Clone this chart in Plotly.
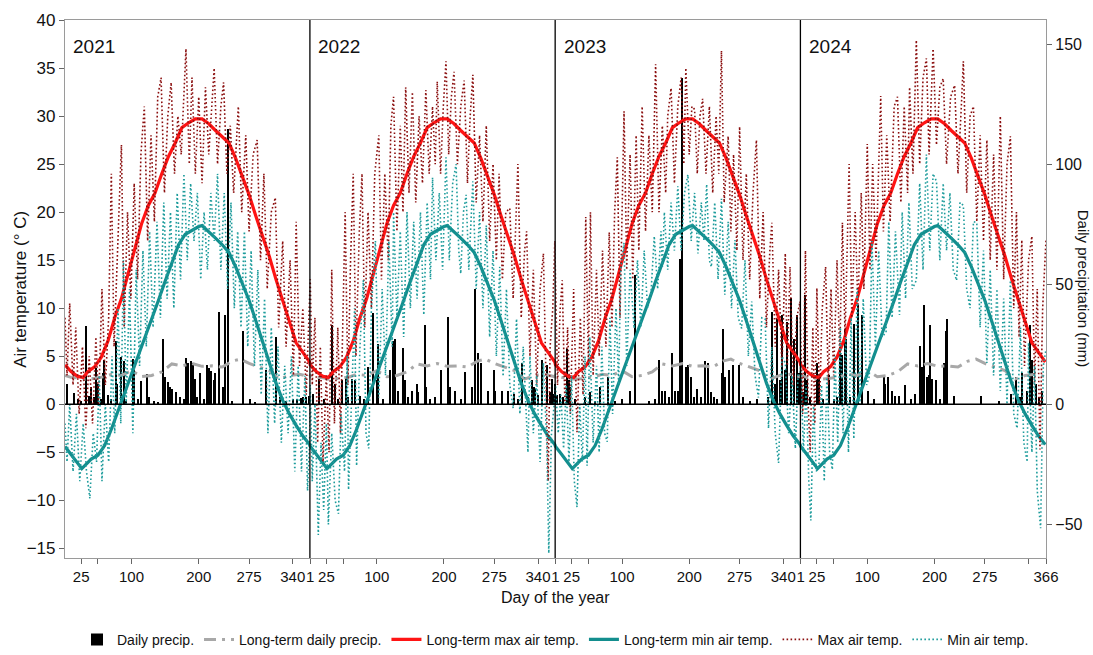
import plotly.graph_objects as go

FONT = "Liberation Sans, Arial, sans-serif"

YEARS = ["2021", "2022", "2023", "2024"]
YEAR_LENGTHS = [365, 365, 365, 366]

# ---- long-term curves (same for every year) ----
LT_MAX_DAYS = [1, 10, 20, 28, 35, 45, 55, 65, 75, 85, 95, 105, 115, 125, 135, 145, 155, 165, 175, 185,
               195, 205, 215, 225, 235, 245, 255, 265, 275, 285, 295, 305, 315, 325, 335, 345, 355, 365]
LT_MAX = [4.1, 3.4, 2.9, 2.8, 3.4, 3.9, 4.9, 6.6, 9.0, 11.0, 13.6, 16.2, 18.8, 20.7, 22.0, 24.0, 25.8, 27.2, 28.8, 29.3,
          29.7, 29.7, 29.2, 28.5, 27.9, 27.2, 25.6, 23.8, 21.8, 19.6, 17.6, 15.4, 13.0, 10.8, 8.6, 6.4, 5.4, 4.4]

LT_MIN_DAYS = [1, 10, 18, 26, 33, 40, 50, 60, 70, 80, 90, 100, 110, 120, 130, 140, 150, 160, 170, 180,
               190, 200, 205, 215, 225, 235, 245, 255, 265, 275, 285, 295, 305, 315, 325, 335, 345, 355, 365]
LT_MIN = [-4.4, -5.2, -6.0, -6.7, -6.2, -5.7, -5.3, -4.3, -2.6, -0.7, 1.2, 3.0, 5.0, 7.0, 8.9, 10.8, 12.8, 14.8, 16.6, 17.7,
          18.1, 18.5, 18.6, 18.0, 17.3, 16.6, 15.8, 14.3, 12.6, 10.8, 8.7, 6.5, 4.4, 2.2, 0.4, -1.0, -2.2, -3.3, -4.2]

LT_PRECIP_DAYS = [1, 10, 20, 30, 45, 60, 70, 85, 100, 115, 130, 145, 160, 175, 190, 205, 220, 235, 250, 262,
                  275, 290, 305, 320, 335, 350, 365]
LT_PRECIP = [12.0, 11.2, 11.0, 10.4, 10.8, 11.5, 12.5, 12.0, 14.0, 11.5, 12.0, 13.5, 16.8, 16.0, 17.0, 15.8, 16.0, 15.5,
             18.0, 18.8, 17.0, 15.5, 14.0, 10.5, 12.0, 12.5, 11.5]

# ---- daily max air temperature (day, degC) ----
MAX_2021 = [(1, 9), (4, 3), (8, 10.5), (13, 2), (17, 8), (22, -1), (27, 6), (32, -2.5), (37, 5), (42, -2), (47, 7),
            (51, 0), (56, 12), (61, 2), (66, 9), (70, 24), (74, 6), (79, 15), (85, 27), (89, 8), (94, 20), (99, 11),
            (104, 23), (109, 13), (114, 26), (119, 31), (124, 17), (129, 28), (134, 19), (139, 32), (144, 34),
            (149, 22), (154, 30), (159, 33.5), (164, 24), (169, 30), (174, 26), (181, 37), (186, 25), (190, 34),
            (195, 24), (200, 32), (205, 23), (210, 33), (215, 26), (223, 35), (228, 25), (233, 31), (237, 33.5),
            (242, 24), (247, 29), (252, 22), (259, 31), (264, 20), (270, 28), (275, 18), (281, 26), (287, 27.5),
            (292, 15), (297, 24), (302, 12), (308, 20), (314, 21.5), (319, 8), (325, 17), (330, 6), (336, 15),
            (341, 3), (345, 19), (350, 4), (355, 10), (360, 1), (365, 13)]
MAX_2022 = [(1, 13), (4, 2), (8, 9), (12, -4), (16, 6), (20, -6), (25, 3), (29, -5), (33, 14), (37, -2), (42, 8),
            (46, -3), (50, 12), (53, 20), (57, 2), (61, 15), (65, 24), (69, 5), (74, 18), (78, 24), (82, 8), (87, 20),
            (92, 10), (97, 24), (103, 28), (107, 13), (112, 24), (117, 15), (121, 29), (125, 32), (130, 18),
            (135, 29), (139, 20), (143, 33), (148, 22), (153, 32.5), (158, 21), (163, 30), (168, 23), (173, 32.7),
            (178, 24), (183, 31), (187, 25), (190, 33.6), (195, 24), (199, 31), (203, 35.7), (207, 26), (211, 32),
            (215, 34.6), (220, 25), (225, 31), (230, 33.7), (235, 23), (239, 30), (243, 34.3), (248, 21), (253, 28),
            (258, 19), (263, 29), (268, 17), (273, 25), (278, 15), (282, 24), (287, 13), (292, 20), (298, 20.4),
            (303, 11), (310, 25), (315, 9), (320, 16), (323, 18), (328, 5), (333, 14), (338, 2), (343, 12),
            (348, 15.7), (352, 0), (355, -8), (358, 6), (362, 10), (365, 17)]
MAX_2023 = [(1, 14), (4, 2), (8, 10), (11, 12.9), (15, 0), (19, 8), (23, -1), (28, 12), (33, -2.9), (38, 9), (42, 1),
            (46, 19.5), (50, 4), (53, 20), (57, 3), (62, 14), (66, 5), (71, 16), (76, 6), (81, 17.9), (85, 8),
            (89, 20), (93, 25.7), (97, 9), (103, 30.5), (107, 14), (112, 26), (116, 13), (121, 28), (125, 16),
            (130, 31), (135, 18), (140, 28), (145, 20), (150, 35.4), (155, 20), (160, 29), (165, 22), (168, 30),
            (173, 32.9), (178, 23), (183, 31), (188, 34), (192, 25), (195, 35), (200, 26), (204, 31), (208, 30.7),
            (212, 24), (216, 30), (220, 31.8), (225, 24), (230, 31), (235, 22), (240, 30), (244, 24), (248, 36.8),
            (252, 21), (258, 27.9), (262, 18), (266, 26), (271, 16), (275, 28.9), (280, 15), (285, 24), (290, 13),
            (295, 22), (300, 27.5), (305, 11), (310, 20), (315, 8), (320, 16), (323, 18.9), (328, 6), (333, 14),
            (338, 4), (343, 15.7), (346, 4), (350, 14.3), (355, 2), (360, 9), (365, 10.7)]
MAX_2024 = [(1, 6.8), (4, -1), (8, 16), (12, 0), (15, -5), (19, 8), (22, -2), (25, 12.1), (29, 0), (33, 10),
            (38, 14.3), (42, 2), (46, 12), (50, 3), (55, 15), (59, 5), (63, 18.9), (67, 7), (73, 25), (77, 9),
            (82, 20), (86, 10), (91, 22), (95, 12), (100, 27.1), (104, 14), (108, 25), (113, 15), (120, 32.1),
            (124, 18), (129, 28), (134, 19), (140, 31), (145, 32), (150, 21), (155, 31), (160, 22), (163, 33),
            (168, 24), (173, 37.9), (178, 25), (183, 34), (188, 36), (192, 26), (198, 37), (203, 27), (208, 33),
            (213, 33.9), (218, 25), (224, 32), (230, 33.2), (235, 24), (240, 31), (243, 35.7), (248, 22), (253, 30),
            (258, 31), (263, 19), (268, 28), (273, 17), (278, 27.5), (283, 15), (288, 26), (293, 14), (298, 30),
            (303, 13), (308, 25), (313, 27.9), (318, 10), (322, 20), (326, 7), (330, 17.1), (334, 4), (340, 15),
            (345, 17.5), (349, 2), (353, 12), (357, -4.7), (361, 10), (366, 17.1)]

# ---- daily min air temperature (day, degC) ----
MIN_2021 = [(1, -2), (4, -6), (8, 0), (13, -7), (18, -1), (23, -8), (28, -2), (33, -7), (38, -9.8), (43, -3),
            (48, -6), (52, 3), (56, -8), (61, 0), (66, -6), (71, 5), (75, -3), (80, 10), (84, -2), (88, 15), (92, 0),
            (97, 12), (102, -3), (107, 14), (112, 4), (117, 16), (122, 6), (127, 18), (132, 8), (138, 19), (143, 9),
            (148, 21), (153, 11), (158, 20), (163, 10), (168, 22), (173, 13), (178, 24), (183, 15), (188, 23),
            (193, 17), (198, 22), (203, 13), (208, 20), (213, 14), (218, 22), (223, 17), (228, 24), (233, 14),
            (238, 22), (243, 12), (248, 21), (253, 10), (258, 18), (263, 8), (268, 18), (273, 6), (278, 16),
            (283, 4), (288, 14), (293, 1), (298, 11), (303, -3), (308, 8), (313, -2), (318, 6), (323, -4), (328, 4),
            (333, -3), (338, 5), (343, -7), (348, 4), (353, -7), (358, 3), (362, -9), (365, -4)]
MIN_2022 = [(1, 2), (4, -8), (8, 0), (13, -13.6), (17, -4), (21, -11), (25, -2), (28, -12.5), (33, -3), (38, -10),
            (43, -11.4), (47, -1), (52, -7), (56, 5), (58, -8.9), (63, 3), (67, 10), (70, -6.4), (75, 6), (80, 12.9),
            (84, -3), (88, -4.6), (92, 10), (98, 17), (103, 0.7), (108, 12), (113, 3), (118, 17), (123, 6), (125, 20),
            (130, 9), (135, 18), (140, 7), (145, 20), (150, 10), (155, 19), (160, 11), (165, 20), (170, 9.3),
            (175, 21), (180, 13), (183, 23.6), (188, 15), (193, 22), (198, 14), (203, 25.7), (208, 15), (213, 23),
            (218, 25), (222, 16), (225, 13.6), (229, 20), (233, 21.8), (237, 14), (243, 23.2), (248, 12), (253, 20),
            (258, 10), (263, 18.6), (268, 7), (273, 16), (278, 5), (283, 14.3), (288, 2.9), (293, 12), (298, 2),
            (303, -0.4), (308, 8.9), (313, -1), (318, 6), (325, -5), (328, 5), (333, -3), (338, 3), (343, -6),
            (348, 4.3), (353, -4), (356, -15.5), (360, -3), (365, 0.7)]
MIN_2023 = [(1, 2), (5, -3), (9, 1), (13, -4.6), (17, 2), (21, -6), (25, 3), (29, -8), (33, -10.7), (37, 0),
            (41, -6), (45, 5), (48, -6.4), (52, 7), (57, -4), (62, 4), (66, -5), (70, 6), (74, -3), (78, -3.9),
            (82, 9), (86, -1), (91, 10), (95, 2), (98, 14), (103, 16.8), (107, 4), (112, 14), (118, 7.9), (123, 15),
            (128, 8), (133, 16), (138, 10), (143, 11.4), (148, 17.5), (153, 12), (158, 18), (160, 14.3), (163, 20),
            (168, 14), (173, 21), (178, 16), (183, 22.7), (188, 16), (193, 22), (198, 23.9), (203, 17), (208, 22),
            (213, 15.7), (218, 21), (222, 17), (226, 22.9), (230, 15), (233, 14.3), (238, 21), (243, 13),
            (248, 21.4), (253, 11.4), (258, 19), (263, 10), (268, 17.1), (273, 9), (278, 7.9), (283, 15), (288, 5),
            (293, 10.7), (298, 3), (303, 0.7), (308, 9), (313, 8.9), (318, -2.5), (323, 6), (328, -3), (333, -6.1),
            (338, 5), (343, 4.3), (348, -3), (353, 3), (358, -4.6), (362, 3), (365, 3.2)]
MIN_2024 = [(1, 4), (5, -5), (9, 2), (13, -8), (16, -12.1), (20, 0), (24, -7), (28, -6.4), (32, 2), (36, -8),
            (40, 3), (44, -5), (48, -6.8), (52, 5), (56, -4), (60, 8), (64, -3), (68, 7), (72, -5), (76, 9),
            (80, -3.6), (85, 12), (89, 0), (94, 11), (99, 2), (103, 2.9), (107, 17), (112, 6), (117, 16), (122, 7),
            (128, 7.5), (132, 19), (137, 9), (142, 18), (148, 9.3), (152, 20), (157, 11), (162, 21), (167, 12),
            (173, 12.9), (178, 23), (183, 14), (188, 26), (193, 16), (198, 24), (203, 23.2), (208, 15), (213, 23),
            (218, 16), (223, 22), (228, 14), (233, 12.9), (238, 21), (243, 20.7), (248, 12), (253, 10), (258, 19),
            (263, 18.9), (268, 8), (273, 16), (278, 4.3), (283, 14), (288, 3), (293, 12), (298, 1.4), (303, 11),
            (308, 0), (313, 12.9), (318, -1), (323, -2.5), (328, 8), (333, -4), (338, -6), (340, 6.4), (345, -5),
            (349, 4), (353, -9), (358, -12.9), (362, 4), (366, 5.7)]

# ---- daily precipitation (day, mm) ----
PRECIP_2021 = [(4, 8.6), (14, 4.5), (20, 2), (25, 1.5), (32, 32.4), (37, 3.6), (40, 7), (44, 3), (47, 15), (50, 8.6),
               (55, 2), (58, 12.9), (60, 18.6), (65, 4), (70, 2), (77, 26.4), (79, 8.6), (84, 19.6), (89, 18),
               (92, 1.5), (102, 18.7), (104, 16.4), (110, 2), (115, 9.7), (123, 12.8), (127, 3), (133, 1.5),
               (139, 1), (147, 27), (150, 11.4), (155, 9.3), (157, 7), (161, 6.4), (167, 5), (172, 2.9), (178, 2),
               (182, 19.3), (184, 17), (189, 17.9), (192, 17), (194, 10.7), (198, 3), (202, 12.9), (208, 2),
               (213, 16.4), (215, 15), (218, 14), (223, 10), (225, 12.9), (230, 38.6), (236, 7), (240, 37),
               (244, 114.6), (250, 1.5), (266, 30.7), (276, 2), (284, 1), (301, 14.3), (316, 27.9), (321, 3),
               (330, 1.5), (340, 2), (346, 2), (352, 2.5), (356, 3), (360, 3), (364, 3.5)]
PRECIP_2022 = [(5, 4.3), (15, 11.4), (22, 2), (33, 33), (38, 8.6), (43, 2), (48, 10), (54, 11.4), (58, 3), (63, 10.7),
               (68, 10), (75, 3.6), (81, 2), (87, 15.7), (95, 37.9), (100, 10), (102, 25), (110, 2), (120, 14.3),
               (125, 26.4), (127, 27), (132, 5.7), (140, 23.6), (142, 10), (147, 3), (152, 5.7), (160, 8.6),
               (162, 5), (172, 32.9), (174, 7), (180, 2), (187, 3), (196, 14.3), (207, 36.4), (209, 7), (217, 5.7),
               (225, 2), (232, 13.6), (242, 7), (246, 47.9), (251, 21.4), (256, 17), (266, 5.7), (274, 14.3),
               (276, 5.7), (286, 5.7), (296, 5.7), (304, 4.3), (310, 2), (316, 17), (325, 3), (331, 10), (334, 7),
               (336, 6.4), (340, 4), (346, 18.6), (353, 16.4), (358, 5), (361, 10.7), (364, 4.3)]
PRECIP_2023 = [(1, 8.6), (4, 4), (8, 4.3), (12, 3), (18, 22.9), (22, 10), (23, 7), (30, 2), (45, 3), (52, 5), (60, 1.5),
               (68, 7), (80, 11.4), (90, 1.5), (100, 2), (112, 5.7), (119, 54), (140, 1.5), (150, 2), (156, 18.6),
               (160, 5.7), (164, 5.7), (170, 3), (175, 21.4), (179, 5.7), (183, 5.7), (187, 60.7), (189, 135.7),
               (196, 15.7), (199, 16.4), (203, 11.4), (208, 3), (212, 6.4), (218, 3), (224, 17.9), (228, 17),
               (232, 5), (237, 3), (242, 2), (249, 12.9), (251, 31.4), (254, 11.4), (259, 14.3), (266, 16.4),
               (274, 16.4), (281, 3), (291, 1.5), (301, 2), (318, 3), (324, 38.6), (328, 8.6), (331, 35.7),
               (335, 10), (338, 37), (343, 14.3), (346, 34.3), (351, 44.3), (356, 27), (361, 37), (364, 12.9)]
PRECIP_2024 = [(1, 12.9), (4, 5), (7, 45.7), (10, 10), (15, 3), (25, 17), (28, 11.4), (35, 2), (43, 12.1), (50, 2),
               (55, 3), (60, 21.4), (63, 20.7), (67, 31.4), (68, 27), (75, 3), (81, 33.6), (87, 41.4), (92, 37),
               (102, 5.7), (110, 2), (125, 11.4), (127, 8.6), (131, 11.4), (137, 5.7), (142, 3.6), (147, 3.6),
               (156, 7.9), (165, 2), (172, 4.3), (178, 24.3), (181, 15.7), (184, 41.4), (189, 11.4), (192, 12.1),
               (194, 32.9), (197, 10.7), (202, 10), (208, 2), (214, 17), (217, 30.7), (219, 35.7), (229, 3.6),
               (269, 3.6), (296, 1.5), (314, 4.3), (321, 11.4), (327, 3), (331, 12.9), (338, 5.7), (343, 32.9),
               (346, 18.6), (351, 8.6), (356, 3), (361, 5.7)]

MAX_T = [MAX_2021, MAX_2022, MAX_2023, MAX_2024]
MIN_T = [MIN_2021, MIN_2022, MIN_2023, MIN_2024]
PRECIP = [PRECIP_2021, PRECIP_2022, PRECIP_2023, PRECIP_2024]

X_TICK_DAYS = [1, 25, 50, 100, 200, 275, 340, 366]
X_TICK_TEXT = [
    [None, "25", "", "100", "200", "275", "340", None],
    ["1", "25", "", "100", "200", "275", "340", None],
    ["1", "25", "", "100", "200", "275", "340", None],
    ["1", "25", "", "100", "200", "275", "", "366"],
]

# ---------------------------------------------------------------
offsets = []
acc = 0
for n in YEAR_LENGTHS:
    offsets.append(acc)
    acc += n
total_days = acc


def series(pairs_by_year):
    xs, ys = [], []
    for off, pairs in zip(offsets, pairs_by_year):
        for d, v in pairs:
            xs.append(off + d)
            ys.append(v)
    return xs, ys


def repeat(days, vals):
    xs, ys = [], []
    for off, n in zip(offsets, YEAR_LENGTHS):
        for d, v in zip(days, vals):
            if d <= n:
                xs.append(off + d)
                ys.append(v)
    return xs, ys


fig = go.Figure()

px_, py_ = series(PRECIP)
fig.add_trace(go.Bar(x=px_, y=py_, width=2.0, marker=dict(color="black", line=dict(width=0)),
                     name="Daily precip.", yaxis="y"))

lx, ly = repeat(LT_PRECIP_DAYS, LT_PRECIP)
fig.add_trace(go.Scatter(x=lx, y=ly, mode="lines", name="Long-term daily precip.", yaxis="y",
                         line=dict(color="#a8a8a8", width=3, dash="12px,6px,3px,6px")))

mx, my = repeat(LT_MAX_DAYS, LT_MAX)
fig.add_trace(go.Scatter(x=mx, y=my, mode="lines", name="Long-term max air temp.", yaxis="y2",
                         line=dict(color="#ff1414", width=3.2)))

nx, ny = repeat(LT_MIN_DAYS, LT_MIN)
fig.add_trace(go.Scatter(x=nx, y=ny, mode="lines", name="Long-term min air temp.", yaxis="y2",
                         line=dict(color="#138e8e", width=3.2)))

ax_, ay_ = series(MAX_T)
fig.add_trace(go.Scatter(x=ax_, y=ay_, mode="lines", name="Max air temp.", yaxis="y2",
                         line=dict(color="#8b0f0f", width=1.6, dash="1.6px,2.4px")))

bx_, by_ = series(MIN_T)
fig.add_trace(go.Scatter(x=bx_, y=by_, mode="lines", name="Min air temp.", yaxis="y2",
                         line=dict(color="#1e9c9c", width=1.6, dash="1.6px,2.4px")))

# ticks
tickvals, ticktext = [], []
for off, texts in zip(offsets, X_TICK_TEXT):
    for d, t in zip(X_TICK_DAYS, texts):
        if t is not None:
            tickvals.append(off + d)
            ticktext.append(t)

shapes = [dict(type="line", xref="paper", x0=0, x1=1, yref="y", y0=0, y1=0,
               line=dict(color="black", width=1.6))]
for off in offsets[1:]:
    shapes.append(dict(type="line", xref="x", x0=off + 0.5, x1=off + 0.5, yref="paper", y0=0, y1=1,
                       line=dict(color="black", width=1.3)))

annotations = []
for off, yr in zip(offsets, YEARS):
    annotations.append(dict(x=off + 10, y=37.2, xref="x", yref="y2", text=yr, showarrow=False,
                            xanchor="left", yanchor="middle", font=dict(size=19, color="#111", family=FONT)))
annotations += [
    dict(x=-0.046, y=0.5, xref="paper", yref="paper", text="Air temperature (° C)", textangle=-90,
         showarrow=False, xanchor="center", yanchor="middle", font=dict(size=17, color="#111", family=FONT)),
    dict(x=1.039, y=0.5, xref="paper", yref="paper", text="Daily precipitation (mm)", textangle=90,
         showarrow=False, xanchor="center", yanchor="middle", font=dict(size=15, color="#111", family=FONT)),
    dict(x=0.5, y=-0.074, xref="paper", yref="paper", text="Day of the year",
         showarrow=False, xanchor="center", yanchor="middle", font=dict(size=16, color="#111", family=FONT)),
]

axis_common = dict(showgrid=False, zeroline=False, showline=True, linecolor="#9a9a9a", linewidth=1.2,
                   ticks="outside", ticklen=5, tickcolor="#666", tickangle=0,
                   tickfont=dict(size=17, color="#111", family=FONT))

fig.update_layout(
    width=1093, height=655,
    margin=dict(l=65, r=47, t=20, b=97, autoexpand=False),
    paper_bgcolor="white", plot_bgcolor="white",
    font=dict(family=FONT, size=14, color="#111"),
    xaxis=dict(range=[1, total_days], tickvals=tickvals, ticktext=ticktext, mirror=True,
               **{**axis_common, "tickfont": dict(size=15, color="#111", family=FONT)}),
    yaxis=dict(range=[-64, 160], side="right", tickvals=[-50, 0, 50, 100, 150],
               **{**axis_common, "tickfont": dict(size=16, color="#111", family=FONT)}),
    yaxis2=dict(range=[-16, 40], side="left", overlaying="y", dtick=5, tick0=0, **axis_common),
    showlegend=True,
    legend=dict(orientation="h", x=0.5, xanchor="center", y=-0.152, yanchor="middle",
                font=dict(size=14, family=FONT, color="#111"), itemwidth=30, tracegroupgap=0,
                bgcolor="rgba(0,0,0,0)"),
    shapes=shapes,
    annotations=annotations,
    bargap=0,
)

fig.write_html("out.html")
